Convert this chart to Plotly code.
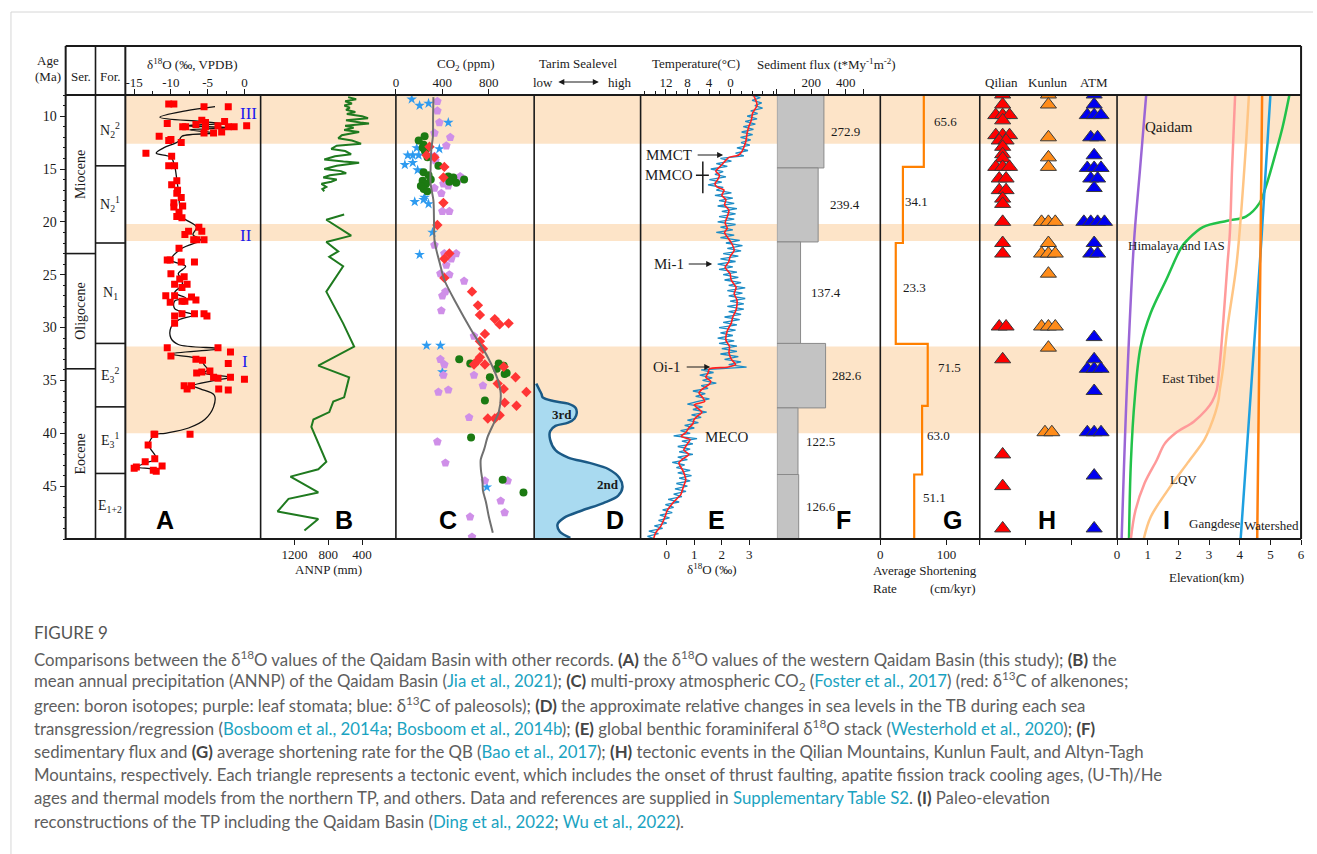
import numpy as np
import plotly.graph_objects as go

# ------------------------------------------------------------------ data
# warm-interval shading (Ma)
BAND_TOP = [8.0, 20.2, 31.8]
BAND_BOT = [12.6, 21.8, 40.0]

SERIES_NAMES = ["Miocene", "Oligocene", "Eocene"]
SERIES_BOUNDS = [8.0, 23.0, 33.9, 50.0]
FORM_NAMES = ["N<sub>2</sub><sup>2</sup>", "N<sub>2</sub><sup>1</sup>", "N<sub>1</sub>",
              "E<sub>3</sub><sup>2</sup>", "E<sub>3</sub><sup>1</sup>", "E<sub>1+2</sub>"]
FORM_BOUNDS = [8.0, 14.7, 22.0, 31.5, 37.5, 43.8, 50.0]

# (A) western Qaidam Basin d18O (per mil, VPDB)
A_AGE = [8.85, 8.85, 9.1, 9.1, 10.7, 11.0, 11.0, 10.8, 10.4, 10.6, 11.0, 10.9, 10.5, 11.0, 11.0, 10.9,
         11.9, 12.3, 12.2, 12.5, 11.6, 11.6, 11.5, 13.5, 13.8, 14.7, 14.7, 16.5, 16.1, 17.0, 17.3, 17.7,
         18.2, 18.5, 18.6, 19.1, 19.5, 19.6, 20.5, 20.9, 20.9, 21.2, 21.7, 21.7, 21.7, 22.5, 23.6, 23.6,
         23.8, 23.8, 24.9, 25.2, 25.4, 25.9, 25.9, 26.2, 27.0, 27.0, 27.1, 27.4, 27.6, 27.5, 27.5, 28.9,
         28.7, 28.7, 28.7, 28.9, 29.6, 31.9, 31.9, 32.3, 32.7, 33.0, 33.1, 33.4, 34.3, 34.2, 34.1, 34.7,
         34.8, 34.7, 34.9, 35.5, 35.5, 35.8, 35.8, 35.9, 40.1, 40.1, 40.1, 41.1, 42.4, 42.7, 43.1, 43.2,
         43.3, 43.5, 43.6]
A_D18O = [-10.3, -9.6, -5.5, -2.2, -10.5, -8.4, -8.0, -6.6, -5.8, -5.3, -5.3, -3.6, -2.7, -2.2, -1.4, 0.3,
          -11.6, -10.3, -10.0, -8.6, -5.5, -4.2, -3.1, -13.4, -9.9, -10.3, -9.5, -9.9, -9.2, -9.1, -9.2, -8.6,
          -9.6, -8.4, -9.6, -8.9, -9.2, -8.5, -6.2, -5.8, -7.6, -8.1, -6.9, -6.5, -5.5, -8.9, -10.5, -10.1,
          -8.6, -6.8, -10.0, -8.2, -8.8, -9.5, -7.8, -8.5, -10.7, -9.5, -7.2, -6.6, -10.1, -8.5, -8.1, -9.5,
          -8.5, -6.8, -5.5, -5.1, -9.5, -10.5, -3.6, -1.9, -10.0, -6.6, -5.7, -2.2, -6.5, -5.8, -4.7, -4.2,
          -3.6, -1.9, 0.0, -8.2, -7.2, -7.8, -3.5, -2.2, -12.3, -12.2, -7.4, -13.1, -12.2, -13.5, -11.2, -14.7,
          -15.0, -12.4, -12.0]
A_CURVE_AGE = [9.1, 9.5, 10.1, 10.5, 10.7, 10.9, 11.1, 11.3, 11.6, 11.9, 12.4, 13.0, 13.5, 13.9, 14.7,
               16.0, 17.0, 18.5, 19.5, 20.5, 21.2, 21.7, 22.5, 23.6, 24.2, 24.9, 25.5, 26.0, 26.7, 27.2,
               27.5, 28.2, 28.8, 29.3, 30.0, 31.0, 31.6, 32.0, 32.5, 33.0, 33.5, 34.0, 34.3, 34.7, 35.0,
               35.5, 35.8, 36.4, 37.5, 38.7, 39.5, 40.0, 40.15, 41.1, 42.4, 42.8, 43.2, 43.4, 43.6]
A_CURVE_D18O = [-4.0, -8.0, -11.5, -6.0, -3.0, -8.0, -2.0, -7.5, -4.0, -8.5, -9.0, -11.0, -12.0, -10.0, -9.5,
                -9.2, -9.0, -8.8, -8.5, -6.5, -7.0, -6.0, -8.5, -10.0, -8.0, -9.0, -8.5, -8.5, -9.5, -8.0,
                -9.5, -9.5, -7.0, -9.0, -10.0, -10.0, -9.0, -3.5, -10.0, -6.0, -5.5, -5.0, -5.5, -2.0, -4.0,
                -7.0, -6.0, -4.1, -4.2, -5.4, -7.6, -10.8, -12.2, -13.0, -12.0, -13.5, -14.5, -12.5, -12.2]

# (B) mean annual precipitation (mm)
B_UP_AGE = [8.2, 8.4, 8.6, 8.8, 9.0, 9.2, 9.4, 9.6, 9.8, 10.0, 10.2, 10.4, 10.6, 10.7, 10.9, 11.1, 11.3,
            11.5, 11.8, 12.1, 12.3, 12.6, 12.8, 13.1, 13.3, 13.6, 13.8, 14.1, 14.3, 14.4, 14.7, 15.0,
            15.2, 15.4, 15.6, 15.8, 16.0, 16.2, 16.4, 16.7, 16.9, 17.1]
B_UP_ANNP = [565, 470, 600, 520, 610, 545, 590, 480, 580, 400, 330, 590, 420, 318, 600, 500, 612,
             435, 640, 682, 520, 412, 700, 765, 600, 530, 720, 847, 620, 435, 700, 847,
             650, 588, 780, 859, 700, 765, 880, 823, 870, 847]
B_LO_AGE = [19.3, 19.8, 21.3, 21.9, 22.8, 23.3, 24.2, 26.6, 29.6, 31.8, 33.6, 34.7, 36.6, 37.0, 38.0,
            38.7, 39.4, 40.9, 42.7, 43.4, 44.1, 45.6, 46.2, 47.4, 48.1, 49.2]
B_LO_ANNP = [612, 823, 529, 823, 682, 788, 624, 823, 624, 494, 918, 553, 612, 741, 788,
             976, 1000, 918, 823, 918, 1247, 918, 1270, 1400, 918, 1082]

# (C) atmospheric CO2 (ppm)
C_FIT_AGE = [8.2, 10.0, 12.0, 13.0, 14.5, 16.3, 18.0, 20.0, 21.7, 22.7, 24.0, 25.5, 27.7, 30.2, 32.8,
             34.9, 36.2, 38.0, 39.0, 40.3, 41.5, 42.5, 43.5, 44.5, 45.4, 46.5, 47.9, 49.4]
C_FIT_PPM = [323, 320, 318, 306, 300, 298, 323, 328, 332, 349, 380, 417, 519, 647, 791,
             876, 902, 885, 845, 791, 760, 730, 732, 745, 749, 775, 800, 834]
C_ALK_AGE = [12.9, 13.7, 13.9, 14.8, 15.8, 18.2, 20.3, 23.0, 23.5, 25.3, 26.6, 27.9, 28.8, 29.2, 29.7,
             29.6, 30.6, 31.3, 32.0, 32.8, 33.1, 33.5, 33.5, 33.7, 34.7, 35.3, 35.8, 36.1, 37.1, 37.4,
             38.3, 38.6, 38.6]
C_ALK_PPM = [289, 264, 332, 417, 409, 409, 357, 460, 417, 417, 655, 706, 723, 851, 893,
             970, 766, 723, 749, 723, 706, 672, 766, 928, 1030, 876, 928, 1123, 936, 1038,
             893, 791, 851]
C_BOR_AGE = [11.9, 12.3, 12.7, 13.0, 13.3, 13.9, 14.7, 15.3, 15.6, 15.7, 15.8, 16.0, 16.1, 16.3, 16.2,
             16.4, 16.6, 16.9, 17.1, 16.0, 33.0, 33.4, 33.4, 33.6, 33.9, 34.3, 34.4, 34.7, 36.9, 40.4,
             44.4, 45.6]
C_BOR_PPM = [247, 196, 238, 230, 250, 272, 366, 238, 281, 451, 494, 587, 230, 519, 460,
             260, 215, 240, 270, 300, 545, 640, 885, 928, 868, 953, 936, 809, 766, 647,
             919, 1098]
C_STO_AGE = [8.6, 9.5, 10.6, 11.6, 12.0, 12.8, 13.8, 13.8, 14.2, 15.7, 16.2, 16.4, 16.6, 16.8, 17.3,
             16.2, 19.0, 19.0, 22.2, 23.0, 23.0, 23.5, 24.1, 24.9, 25.0, 25.6, 26.6, 27.0, 28.4, 30.8,
             33.0, 33.5, 34.5, 34.5, 35.5, 36.1, 35.9, 38.5, 40.8, 42.8, 44.5, 44.5, 46.4, 47.5, 47.9,
             49.8]
C_STO_PPM = [357, 357, 374, 332, 468, 434, 332, 298, 340, 553, 420, 409, 450, 332, 391,
             530, 400, 460, 332, 417, 519, 477, 434, 383, 460, 587, 426, 400, 391, 672,
             383, 417, 409, 672, 749, 366, 451, 630, 357, 426, 766, 962, 902, 936, 638,
             655]
C_SOIL_AGE = [8.4, 9.0, 8.8, 10.6, 13.0, 13.1, 13.7, 13.7, 13.7, 14.6, 14.4, 15.1, 17.7, 18.1, 17.9,
              18.3, 21.0, 23.1, 31.7, 31.7, 34.2, 45.1]
C_SOIL_PPM = [136, 204, 281, 451, 179, 374, 102, 145, 196, 77, 145, 187, 247, 162, 238,
              281, 315, 204, 264, 383, 400, 783]

# (D) relative Tarim sea level (arbitrary units, low -> high)
D_AGE = [35.3, 35.9, 36.3, 36.6, 36.95, 37.2, 37.6, 38.1, 38.6, 39.0, 39.3, 39.8, 40.6, 41.6, 42.3,
         42.8, 43.4, 44.2, 45.1, 45.9, 46.6, 47.3, 48.0, 48.6, 49.3, 49.9]
D_LEVEL = [0.2, 0.5, 0.7, 0.8, 1.8, 3.2, 3.9, 4.0, 3.8, 3.2, 2.0, 1.5, 1.5, 2.0, 3.2,
           5.2, 7.0, 8.0, 8.3, 7.9, 6.5, 4.5, 2.8, 2.2, 2.4, 3.4]

# (E) benthic foraminiferal d18O stack, one row per Ma at 0.25 Ma steps (8.00 ... 49.75), plus 50.00
E_ROWS = [
    [3.05, 3.40, 3.10, 3.45], [3.20, 3.48, 3.05, 3.30], [2.92, 3.28, 2.85, 3.22], [2.78, 3.15, 2.72, 3.12],
    [2.68, 3.05, 2.70, 3.02], [2.55, 2.95, 2.50, 2.80], [1.95, 2.35, 1.80, 2.20], [1.60, 2.05, 1.75, 2.15],
    [1.55, 2.00, 1.50, 2.05], [1.80, 2.35, 1.75, 2.40], [1.90, 2.45, 1.85, 2.55], [2.00, 2.50, 1.90, 2.45],
    [1.85, 2.50, 1.95, 2.40], [1.80, 2.45, 1.95, 2.65], [2.15, 2.75, 2.20, 2.70], [2.05, 2.60, 1.95, 2.50],
    [1.85, 2.40, 1.90, 2.55], [2.05, 2.60, 2.10, 2.70], [2.25, 2.85, 2.20, 2.75], [2.25, 2.85, 2.30, 2.80],
    [2.20, 2.80, 2.25, 2.70], [2.10, 2.65, 2.05, 2.55], [1.90, 2.50, 1.95, 2.40], [1.85, 2.45, 1.90, 2.55],
    [2.00, 2.55, 1.95, 2.60], [2.10, 2.70, 2.25, 2.90], [1.25, 1.70, 1.20, 1.65], [1.30, 1.80, 1.25, 1.50],
    [0.95, 1.40, 1.05, 1.55], [1.10, 0.75, 1.30, 0.95], [1.45, 0.90, 1.25, 0.75], [1.15, 0.65, 1.00, 0.50],
    [0.85, 0.25, 1.10, 0.55], [0.95, 0.40, 0.85, 0.45], [0.95, 0.40, 0.75, 0.20], [0.65, 0.35, 0.85, 0.40],
    [0.90, 0.45, 0.85, 0.35], [0.75, 0.30, 0.70, 0.25], [0.55, 0.05, 0.45, -0.05], [0.25, -0.15, 0.20, -0.25],
    [0.10, -0.30, 0.00, -0.45], [-0.15, -0.65, -0.30, -0.70], [-0.40],
]
E_SMOOTH_AGE = [8.0, 8.6, 9.0, 9.7, 10.4, 11.0, 11.6, 12.3, 12.9, 13.4, 13.7, 13.9, 14.3, 14.6, 15.2, 15.6,
                16.0, 16.4, 16.7, 17.0, 17.5, 17.9, 18.4, 18.9, 19.5, 20.1, 20.6, 21.0, 21.4, 22.0, 22.7,
                23.3, 23.8, 24.3, 24.9, 25.5, 26.2, 26.8, 27.4, 28.3, 29.0, 29.6, 30.3, 31.2, 31.8, 32.4,
                33.0, 33.5, 33.75, 33.9, 34.3, 34.7, 35.1, 35.4, 35.8, 36.2, 36.6, 37.0, 37.3, 37.7, 38.0,
                38.4, 38.7, 39.1, 39.5, 39.9, 40.3, 40.6, 41.0, 41.6, 42.0, 42.4, 42.8, 43.6, 44.4, 45.1,
                45.8, 46.5, 47.3, 47.8, 48.2, 48.8, 49.4, 50.0]
E_SMOOTH_D18O = [3.15, 3.25, 3.28, 3.12, 3.07, 2.98, 2.92, 2.88, 2.81, 2.72, 2.60, 2.26, 2.10, 2.00, 1.78, 1.92,
                 1.85, 1.75, 1.82, 2.08, 2.00, 2.15, 2.10, 2.26, 2.20, 2.12, 2.20, 2.10, 2.19, 2.35, 2.45,
                 2.30, 2.25, 2.12, 2.30, 2.34, 2.52, 2.45, 2.55, 2.52, 2.40, 2.34, 2.20, 2.15, 2.28, 2.26,
                 2.35, 2.50, 2.20, 1.55, 1.50, 1.42, 1.60, 1.53, 1.30, 1.17, 1.30, 1.38, 1.00, 1.15, 1.28,
                 1.10, 0.99, 0.95, 0.80, 0.70, 0.52, 0.85, 0.75, 0.62, 0.80, 0.60, 0.44, 0.60, 0.69, 0.60,
                 0.51, 0.25, 0.02, -0.05, -0.11, -0.22, -0.40, -0.48]

# (F) sediment flux (t/My/m2) per interval
F_TOP = [8.0, 14.9, 21.9, 31.5, 37.6, 43.9]
F_BOT = [14.9, 21.9, 31.5, 37.6, 43.9, 50.0]
F_FLUX = [272.9, 239.4, 137.4, 282.6, 122.5, 126.6]

# (G) average shortening rate (cm/kyr) per interval
G_TOP = [8.0, 14.8, 22.0, 31.55, 37.4, 43.9]
G_BOT = [14.8, 22.0, 31.55, 37.4, 43.9, 50.0]
G_RATE = [65.6, 34.1, 23.3, 71.5, 63.0, 51.1]

# (H) tectonic events (Ma); repeated ages are separate events
H_QILIAN = [7.95, 8.9, 9.9, 9.9, 9.9, 10.4, 11.8, 11.8, 11.8, 12.3, 12.3, 12.9, 13.6, 14.0, 14.8, 14.8,
            14.8, 15.9, 15.9, 17.0, 17.0, 17.8, 18.3, 20.0, 22.0, 23.0, 29.9, 29.9, 33.0, 42.0, 45.0, 49.0]
H_KUNLUN = [7.95, 8.9, 12.0, 13.9, 14.8, 20.0, 20.0, 20.0, 22.0, 23.0, 23.0, 23.0, 24.9, 29.9, 29.9,
            29.9, 31.9, 39.9, 39.9]
H_ATM = [7.95, 8.9, 9.9, 9.9, 9.9, 12.0, 12.0, 13.7, 14.9, 14.9, 14.9, 15.9, 15.9, 16.8, 20.0, 20.0,
         20.0, 20.0, 22.0, 23.0, 23.0, 30.9, 33.0, 33.9, 33.9, 33.9, 36.0, 39.9, 39.9, 39.9, 44.0, 49.0]

# (I) paleo-elevation (km)
I_QAIDAM_AGE = [8, 15, 22, 35, 50]
I_QAIDAM_KM = [0.95, 0.75, 0.55, 0.33, 0.15]
I_HIMALAYA_AGE = [8, 11, 13.2, 16.7, 18.2, 19.5, 19.9, 20.5, 21.7, 22.4, 25.5, 28.6, 31.8, 36.6, 42.8, 50]
I_HIMALAYA_KM = [5.62, 5.4, 5.2, 4.85, 4.65, 4.2, 3.6, 2.8, 2.3, 2.1, 1.6, 1.1, 0.77, 0.58, 0.45, 0.39]
I_ETIBET_AGE = [8, 15, 21, 24, 28, 31.8, 34, 35.9, 37.0, 37.8, 38.9, 40, 41, 42.5, 44.7, 47.3, 50]
I_ETIBET_KM = [3.85, 3.75, 3.68, 3.6, 3.5, 3.4, 3.33, 3.25, 3.1, 2.9, 2.5, 1.9, 1.55, 1.3, 0.9, 0.6, 0.45]
I_LQV_AGE = [8, 15, 23.9, 30, 34, 35.9, 37, 38.1, 39.3, 40.6, 42.8, 45.4, 47.9, 50]
I_LQV_KM = [4.3, 4.15, 3.9, 3.6, 3.45, 3.35, 3.3, 3.2, 3.05, 2.85, 2.3, 1.65, 1.1, 0.87]
I_GANGDESE_AGE = [8, 22, 50]
I_GANGDESE_KM = [5.0, 4.7, 4.03]
I_WATERSHED_AGE = [8, 22, 50]
I_WATERSHED_KM = [4.73, 4.68, 4.57]

# ------------------------------------------------------------------ layout helpers
W, H = 1317, 854
SERIF = "Liberation Serif, Times New Roman, serif"
SANS = "Liberation Sans, Arial, sans-serif"
CAP = "Lato, Open Sans, sans-serif"
INK = "#1a1a1a"


def px(x):
    return x / W


def py(y):
    return 1 - y / H


Y_TOP, Y_BOT = 95, 539
PANELS = {  # pixel edges of each column
    "A": (123, 259), "B": (259, 395), "C": (395, 534), "D": (534, 641), "E": (641, 778),
    "F": (778, 882), "G": (882, 982), "H": (982, 1120), "I": (1120, 1305),
}

fig = go.Figure()


def kw(ax):
    return dict(xaxis=ax, yaxis="y", showlegend=False, hoverinfo="skip")


# (A)
fig.add_trace(go.Scatter(x=A_CURVE_D18O, y=A_CURVE_AGE, mode="lines",
                         line=dict(color="#111", width=1.3, shape="spline", smoothing=1.0), **kw("x")))
fig.add_trace(go.Scatter(x=A_D18O, y=A_AGE, mode="markers",
                         marker=dict(symbol="square", size=7, color="#ff0000"), **kw("x")))
# (B)
for xs, ys in ((B_UP_ANNP, B_UP_AGE), (B_LO_ANNP, B_LO_AGE)):
    fig.add_trace(go.Scatter(x=xs, y=ys, mode="lines", line=dict(color="#1f7a1f", width=2), **kw("x2")))
# (C)
fig.add_trace(go.Scatter(x=C_SOIL_PPM, y=C_SOIL_AGE, mode="markers",
                         marker=dict(symbol="star", size=8, color="#2e9bf0"), **kw("x3")))
fig.add_trace(go.Scatter(x=C_STO_PPM, y=C_STO_AGE, mode="markers",
                         marker=dict(symbol="pentagon", size=9, color="#cf8fe8"), **kw("x3")))
fig.add_trace(go.Scatter(x=C_BOR_PPM, y=C_BOR_AGE, mode="markers",
                         marker=dict(symbol="circle", size=8, color="#1c7a12"), **kw("x3")))
fig.add_trace(go.Scatter(x=C_ALK_PPM, y=C_ALK_AGE, mode="markers",
                         marker=dict(symbol="diamond", size=8, color="#ff3535"), **kw("x3")))
fig.add_trace(go.Scatter(x=C_FIT_PPM, y=C_FIT_AGE, mode="lines",
                         line=dict(color="#707070", width=2, shape="spline", smoothing=0.8), **kw("x3")))
# (D)
fig.add_trace(go.Scatter(x=D_LEVEL, y=D_AGE, mode="lines", fill="tozerox", fillcolor="#a9daf0",
                         line=dict(color="#1b5a86", width=2.5, shape="spline", smoothing=1.0), **kw("x4")))
# (E)
E_VAL = sum(E_ROWS, [])
E_AGE = np.arange(len(E_VAL)) * 0.25 + 8.0
fig.add_trace(go.Scatter(x=E_VAL, y=E_AGE, mode="lines", line=dict(color="#1d8cc6", width=1.3), **kw("x5")))
fig.add_trace(go.Scatter(x=E_SMOOTH_D18O, y=E_SMOOTH_AGE, mode="lines",
                         line=dict(color="#ff2020", width=1.6, shape="spline", smoothing=0.6), **kw("x5")))
fig.add_trace(go.Scatter(x=[None], y=[None], mode="lines", **kw("x6")))
# (F)
fig.add_trace(go.Bar(x=F_FLUX, y=[(a + b) / 2 for a, b in zip(F_TOP, F_BOT)],
                     width=[b - a for a, b in zip(F_TOP, F_BOT)], base=0, orientation="h",
                     marker=dict(color="#c3c3c3", line=dict(color="#8a8a8a", width=1)), **kw("x7")))
# (G) step line
g_x, g_y = [], []
for t, b, r in zip(G_TOP, G_BOT, G_RATE):
    g_x += [r, r]
    g_y += [t, b]
fig.add_trace(go.Scatter(x=g_x, y=g_y, mode="lines", line=dict(color="#ff8000", width=2.2), **kw("x8")))


# (H) events at the same age are spread side by side
def spread(ages, centre, step=0.15):
    xs = []
    for i, a in enumerate(ages):
        same = [j for j, b in enumerate(ages) if b == a]
        k = same.index(i)
        xs.append(centre + (k - (len(same) - 1) / 2) * step)
    return xs


for ages, centre, col in ((H_QILIAN, 0.5, "#ff0000"), (H_KUNLUN, 1.5, "#ff8c1a"), (H_ATM, 2.5, "#0000f0")):
    fig.add_trace(go.Scatter(x=spread(ages, centre), y=ages, mode="markers", cliponaxis=True,
                             marker=dict(symbol="triangle-up", size=14, color=col,
                                         line=dict(color="#3a3a3a", width=1)), **kw("x9")))
# (I)
for xs, ys, col in ((I_QAIDAM_KM, I_QAIDAM_AGE, "#9b66d6"), (I_HIMALAYA_KM, I_HIMALAYA_AGE, "#22c24a"),
                    (I_ETIBET_KM, I_ETIBET_AGE, "#ff9a9a"), (I_LQV_KM, I_LQV_AGE, "#ffc584"),
                    (I_GANGDESE_KM, I_GANGDESE_AGE, "#1ea0e0"), (I_WATERSHED_KM, I_WATERSHED_AGE, "#ff7f0e")):
    fig.add_trace(go.Scatter(x=xs, y=ys, mode="lines",
                             line=dict(color=col, width=2.5, shape="spline", smoothing=1.0), **kw("x10")))

# ------------------------------------------------------------------ axes
TICKFONT = dict(family=SERIF, size=13, color=INK)


def xax(panel, rng, side, **extra):
    l, r = PANELS[panel]
    d = dict(domain=[px(l), px(r)], range=rng, anchor="y", side=side, showgrid=False, zeroline=False,
             showline=False, ticks="outside", ticklen=5, tickwidth=1.2, tickcolor=INK, tickfont=TICKFONT,
             ticklabelstandoff=-3 if side == "top" else -2, fixedrange=True)
    d.update(extra)
    return d


fig.update_layout(
    width=W, height=H, margin=dict(l=0, r=0, t=0, b=0), paper_bgcolor="white",
    plot_bgcolor="rgba(0,0,0,0)", showlegend=False, barmode="overlay",
    yaxis=dict(domain=[py(Y_BOT), py(Y_TOP)], range=[50, 8], anchor="free", position=px(63), side="left",
               ticks="outside", ticklen=6, tickwidth=1.3, tickcolor=INK, tickvals=[10, 15, 20, 25, 30, 35, 40, 45],
               tickfont=dict(family=SERIF, size=14, color=INK), showgrid=False, zeroline=False, showline=False,
               minor=dict(ticks="outside", ticklen=3, tickcolor=INK, tick0=0, dtick=1), fixedrange=True),
    xaxis=xax("A", [-16.2, 2.2], "top", tickvals=[-15, -10, -5, 0], ticktext=["-15", "-10", "-5", "0"],
              minor=dict(ticks="outside", ticklen=3, tickcolor=INK, tick0=0, dtick=2.5)),
    xaxis2=xax("B", [1600, 0], "bottom", tickvals=[1200, 800, 400]),
    xaxis3=xax("C", [0, 1190], "top", tickvals=[0, 400, 800]),
    xaxis4=xax("D", [0, 10], "top", ticks="", showticklabels=False),
    xaxis5=xax("E", [-0.95, 4.0], "bottom", tickvals=[0, 1, 2, 3]),
    xaxis6=dict(overlaying="x5", range=[16.7, -8.6], anchor="y", side="top", showgrid=False, zeroline=False,
                ticks="outside", ticklen=5, tickwidth=1.2, tickcolor=INK, tickfont=TICKFONT, ticklabelstandoff=-3,
                tickvals=[12, 8, 4, 0], minor=dict(ticks="outside", ticklen=3, tickcolor=INK, tick0=0, dtick=2),
                fixedrange=True),
    xaxis7=xax("F", [0, 600], "top", tickvals=[0, 100, 200, 300, 400, 500],
               ticktext=["", "", "200", "", "400", ""]),
    xaxis8=xax("G", [0, 150], "bottom", tickvals=[0, 100]),
    xaxis9=xax("H", [0, 3], "bottom", tickvals=[0, 1, 2, 3], showticklabels=False),
    xaxis10=xax("I", [0, 6], "bottom", tickvals=[0, 1, 2, 3, 4, 5, 6]),
)

# ------------------------------------------------------------------ shading, frame, columns
shapes = []
for t, b in zip(BAND_TOP, BAND_BOT):
    shapes.append(dict(type="rect", xref="paper", yref="y", x0=px(123), x1=px(1305), y0=t, y1=b,
                       fillcolor="#fde4c8", line=dict(width=0), layer="below"))


def hline(y, x0, x1, w=1.6, col=INK):
    shapes.append(dict(type="line", xref="paper", yref="paper", x0=px(x0), x1=px(x1), y0=py(y), y1=py(y),
                       line=dict(color=col, width=w), layer="above"))


def vline(x, y0, y1, w=1.6, col=INK):
    shapes.append(dict(type="line", xref="paper", yref="paper", x0=px(x), x1=px(x), y0=py(y0), y1=py(y1),
                       line=dict(color=col, width=w), layer="above"))


hline(46, 63, 1305, 2)
hline(Y_TOP, 63, 1305, 2)
hline(Y_BOT, 63, 1305, 2.2)
vline(63, 46, Y_BOT, 2)
vline(1305, 46, Y_BOT, 2)
vline(93, 46, Y_BOT, 1.6)
vline(123, 46, Y_BOT, 2)
for x in (259, 395, 534, 641, 882, 982, 1120):
    vline(x, Y_TOP, Y_BOT, 1.6)

# page rules
hline(12, 8, 1317, 1, "#d6d6d6")
vline(8, 12, 854, 1, "#d6d6d6")

for b in SERIES_BOUNDS[1:-1]:
    shapes.append(dict(type="line", xref="paper", yref="y", x0=px(63), x1=px(93), y0=b, y1=b,
                       line=dict(color=INK, width=1.6)))
for b in FORM_BOUNDS[1:-1]:
    shapes.append(dict(type="line", xref="paper", yref="y", x0=px(93), x1=px(123), y0=b, y1=b,
                       line=dict(color=INK, width=1.6)))

# MMCO range bar
shapes.append(dict(type="line", xref="x5", yref="y", x0=1.31, x1=1.31, y0=14.3, y1=17.3,
                   line=dict(color=INK, width=1.5)))
shapes.append(dict(type="line", xref="x5", yref="y", x0=1.06, x1=1.53, y0=15.6, y1=15.6,
                   line=dict(color=INK, width=1.5)))
fig.update_layout(shapes=shapes)

# ------------------------------------------------------------------ text
ann = []


def text(s, x, y, size=13, family=SERIF, color=INK, xanchor="center", **extra):
    d = dict(text=s, x=px(x), y=py(y), xref="paper", yref="paper", showarrow=False,
             font=dict(family=family, size=size, color=color), xanchor=xanchor, yanchor="middle")
    d.update(extra)
    ann.append(d)


def arrow(head_x, tail_x, y, both=False):
    ann.append(dict(text="", x=px(head_x), y=py(y), ax=tail_x - head_x, ay=0, xref="paper", yref="paper",
                    axref="pixel", ayref="pixel", showarrow=True, arrowhead=2,
                    arrowside="end+start" if both else "end", arrowsize=1, arrowwidth=1.2, arrowcolor=INK))


# header
text("Age", 45, 61, 13)
text("(Ma)", 45, 77, 13)
text("Ser.", 78, 77, 13)
text("For.", 108, 77, 13)
text("δ<sup>18</sup>O (‰, VPDB)", 190, 64, 13)
text("CO<sub>2</sub> (ppm)", 465, 65, 13)
text("Tarim Sealevel", 579, 64, 13)
text("low", 543, 82, 13)
text("high", 620, 82, 13)
arrow(599, 557, 82, both=True)
text("Temperature(°C)", 697, 64, 13)
text("Sediment flux (t*My<sup>-1</sup>m<sup>-2</sup>)", 828, 64, 13)
text("Qilian", 1004, 82, 13)
text("Kunlun", 1051, 82, 13)
text("ATM", 1097, 82, 13)

# bottom titles
text("ANNP (mm)", 327, 569, 13)
text("δ<sup>18</sup>O (‰)", 713, 569, 13)
text("Average Shortening", 873, 570, 13, xanchor="left")
text("Rate", 873, 588, 13, xanchor="left")
text("(cm/kyr)", 930, 588, 13, xanchor="left")
text("Elevation(km)", 1210, 577, 13)

# series / formation columns
for name, t, b in zip(SERIES_NAMES, SERIES_BOUNDS[:-1], SERIES_BOUNDS[1:]):
    ann.append(dict(text=name, x=px(78), y=(t + b) / 2, xref="paper", yref="y", showarrow=False,
                    xanchor="center", yanchor="middle", textangle=-90,
                    font=dict(family=SERIF, size=14, color=INK)))
for name, t, b in zip(FORM_NAMES, FORM_BOUNDS[:-1], FORM_BOUNDS[1:]):
    ann.append(dict(text=name, x=px(108), y=(t + b) / 2, xref="paper", yref="y", showarrow=False,
                    xanchor="center", yanchor="middle", font=dict(family=SERIF, size=14, color=INK)))

# panel letters
for letter, x in zip("ABCDEFGHI", (163, 343, 447, 615, 717, 845, 955, 1050, 1170)):
    text(f"<b>{letter}</b>", x, 520, 25, SANS, "#000")

# roman numerals on (A)
text("III", 247, 113, 17, color="#1a1aee")
text("II", 244, 236, 17, color="#1a1aee")
text("I", 243, 361, 17, color="#1a1aee")

# (D) labels
text("<b>3rd</b>", 562, 414, 13)
text("<b>2nd</b>", 608, 485, 13)

# (E) event labels
text("MMCT", 670, 155, 15)
text("MMCO", 670, 175, 15)
text("Mi-1", 670, 264, 15)
text("Oi-1", 668, 367, 15)
text("MECO", 728, 437, 15)
arrow(724, 697, 155)
arrow(713, 688, 264)
arrow(711, 686, 367)

# (F) and (G) values
F_LABEL_X = [398, 398, 283, 404, 254, 254]
for v, t, b, lx in zip(F_FLUX, F_TOP, F_BOT, F_LABEL_X):
    ann.append(dict(text=f"{v:.1f}", x=lx, y=(t + b) / 2, xref="x7", yref="y", showarrow=False,
                    font=dict(family=SERIF, size=13, color=INK)))
G_LABEL = [(99, 10.5), (54, 18.1), (52, 26.2), (104, 33.8), (88, 40.2), (81, 46.1)]
for v, (lx, ly) in zip(G_RATE, G_LABEL):
    ann.append(dict(text=f"{v:.1f}", x=lx, y=ly, xref="x8", yref="y", showarrow=False,
                    font=dict(family=SERIF, size=13, color=INK)))

# (I) curve names
text("Qaidam", 1172, 127, 15)
text("Himalaya and IAS", 1180, 245, 13)
text("East Tibet", 1192, 379, 13)
text("LQV", 1187, 480, 13)
text("Gangdese", 1218, 523, 13)
text("Watershed", 1275, 525, 13)

# caption
GREY, BOLD, LINK = "#5e5e5e", "#454545", "#1aa3c1"


def L(s):
    return f'<span style="color:{LINK}">{s}</span>'


def B(s):
    return f'<b><span style="color:{BOLD}">{s}</span></b>'


CAPTION = [
    "Comparisons between the δ<sup>18</sup>O values of the Qaidam Basin with other records. " + B("(A)")
    + " the δ<sup>18</sup>O values of the western Qaidam Basin (this study); " + B("(B)") + " the",
    "mean annual precipitation (ANNP) of the Qaidam Basin (" + L("Jia et al., 2021") + "); " + B("(C)")
    + " multi-proxy atmospheric CO<sub>2</sub> (" + L("Foster et al., 2017") + ") (red: δ<sup>13</sup>C of alkenones;",
    "green: boron isotopes; purple: leaf stomata; blue: δ<sup>13</sup>C of paleosols); " + B("(D)")
    + " the approximate relative changes in sea levels in the TB during each sea",
    "transgression/regression (" + L("Bosboom et al., 2014a") + "; " + L("Bosboom et al., 2014b") + "); "
    + B("(E)") + " global benthic foraminiferal δ<sup>18</sup>O stack (" + L("Westerhold et al., 2020") + "); " + B("(F)"),
    "sedimentary flux and " + B("(G)") + " average shortening rate for the QB (" + L("Bao et al., 2017") + "); "
    + B("(H)") + " tectonic events in the Qilian Mountains, Kunlun Fault, and Altyn-Tagh",
    "Mountains, respectively. Each triangle represents a tectonic event, which includes the onset of thrust "
    "faulting, apatite fission track cooling ages, (U-Th)/He",
    "ages and thermal models from the northern TP, and others. Data and references are supplied in "
    + L("Supplementary Table S2") + ". " + B("(I)") + " Paleo-elevation",
    "reconstructions of the TP including the Qaidam Basin (" + L("Ding et al., 2022") + "; "
    + L("Wu et al., 2022") + ").",
]
text("FIGURE 9", 29, 632, 17, CAP, "#555555", xanchor="left")
for i, line in enumerate(CAPTION):
    text(line, 29, 658 + i * 23.3, 16.8, CAP, GREY, xanchor="left")

fig.update_layout(annotations=ann)
fig.write_html("out.html")
